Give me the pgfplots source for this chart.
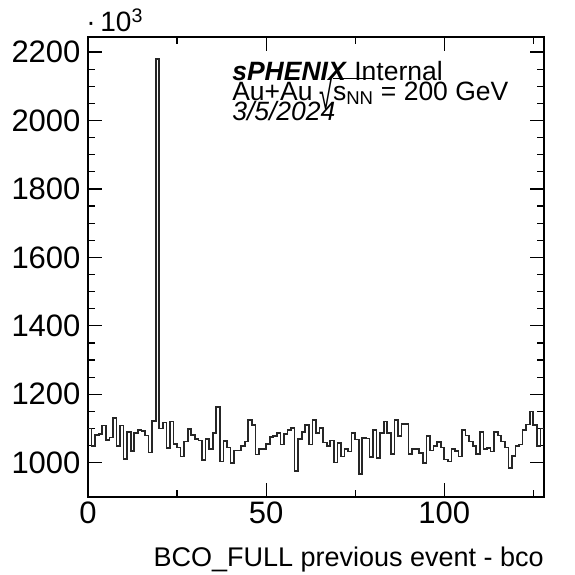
\documentclass[border=0pt]{standalone}
\usepackage{pgfplots}
\pgfplotsset{compat=1.18}
\usepackage{pgfplotstable}
\usepackage{graphicx}
\usepackage{fontspec}
\setmainfont{Liberation Sans}
\pgfplotstableread{
x y
0 1100
1 1050
2 1082
3 1084
4 1109
5 1067
6 1074
7 1130
8 1050
9 1109
10 1012
11 1090
12 1035
13 1087
14 1096
15 1092
16 1080
17 1030
18 1123
19 2180
20 1100
21 1118
22 1043
23 1121
24 1055
25 1045
26 1018
27 1062
28 1098
29 1082
30 1070
31 1065
32 1008
33 1070
34 1040
35 1086
36 1162
37 1004
38 1064
39 1045
40 999
41 1036
42 1036
43 1050
44 1062
45 1124
46 1111
47 1024
48 1040
49 1040
50 1055
51 1076
52 1079
53 1087
54 1053
55 1085
56 1095
57 1102
58 975
59 1070
60 1090
61 1110
62 1053
63 1124
64 1087
65 1101
66 1059
67 1048
68 1065
69 1001
70 1057
71 1018
72 1040
73 1033
74 1087
75 1068
76 968
77 1073
78 1071
79 1016
80 1096
81 1013
82 1087
83 1121
84 1087
85 1025
86 1125
87 1078
88 1113
89 1113
90 1026
91 1041
92 1040
93 1028
94 999
95 1078
96 1036
97 1048
98 1060
99 1045
100 1010
101 1004
102 1040
103 1034
104 1018
105 1096
106 1080
107 1062
108 1050
109 1026
110 1090
111 1040
112 1043
113 1033
114 1090
115 1080
116 1062
117 1045
118 984
119 1020
120 1048
121 1053
122 1095
123 1112
124 1150
125 1111
126 1048
127 1100
128 1100
}\histdata
\begin{document}
\begin{tikzpicture}
\begin{axis}[
  scale only axis,
  width=456pt, height=460pt,
  xmin=0, xmax=128, ymin=900, ymax=2244,
  axis line style={line width=1.6pt},
  tick style={line width=1.2pt, black},
  tick align=inside,
  xtick={0,50,100},
  extra x ticks={25,75,125},
  extra x tick labels={},
  extra x tick style={major tick length=7pt},
  minor x tick num=0,
  ytick={1000,1200,1400,1600,1800,2000,2200},
  minor y tick num=3,
  major tick length=14pt,
  minor tick length=7pt,
  xtick pos=both, ytick pos=both,
  scaled y ticks=false,
  /pgf/number format/assume math mode=true,
  /pgf/number format/set thousands separator={},
  tick label style={font=\fontsize{31}{36}\selectfont},
  xticklabel style={yshift=-1pt},
  yticklabel style={xshift=-4pt},
  xlabel={BCO\_FULL previous event - bco},
  xlabel style={font=\fontsize{27}{32}\selectfont, at={(rel axis cs:1,0)}, anchor=base east, inner sep=0pt, yshift=-69pt},
  clip=false,
]
\addplot[const plot mark left, line width=1.7pt, black!85] table[x=x,y=y] {\histdata};
\node[anchor=base west, inner sep=0pt, font=\fontsize{26.5}{30}\selectfont] at (rel axis cs:0.316,0.9065) {\textbf{\textit{sPHENIX}} Internal};
\node[anchor=base west, inner sep=0pt, font=\fontsize{26.5}{30}\selectfont] at (rel axis cs:0.316,0.8630) {Au+Au \raisebox{-0.34em}{\scalebox{0.9}[1.5]{√}}\makebox[0pt][l]{\rule[0.78em]{1.5em}{1pt}}s\textsubscript{NN} = 200 GeV};
\node[anchor=base west, inner sep=0pt, font=\fontsize{26.5}{30}\selectfont] at (rel axis cs:0.316,0.8175) {\textit{3/5/2024}};
\node[anchor=base west, inner sep=0pt, font=\fontsize{28}{30}\selectfont] at (rel axis cs:-0.004,1.011) {·\,10\textsuperscript{3}};
\end{axis}
\pgfresetboundingbox
\path[use as bounding box] ([xshift=-88pt,yshift=-78pt]current axis.south west) rectangle ([xshift=30pt,yshift=37pt]current axis.north east);
\end{tikzpicture}
\end{document}
